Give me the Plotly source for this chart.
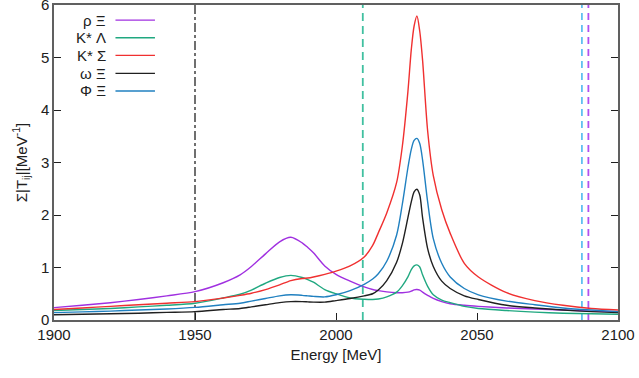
import plotly.graph_objects as go

energy = [1900, 1910, 1920, 1930, 1940, 1950, 1960, 1966, 1970, 1975, 1980, 1984, 1988, 1990,
          1992, 1996, 2000, 2005, 2010, 2013, 2015, 2018, 2021.5, 2023.5, 2025.5, 2026.7, 2027.7,
          2028.7, 2029.7, 2030.7, 2032.5, 2034.5, 2037.5, 2040.5, 2045.5, 2050.5, 2060.5, 2070.5,
          2080.5, 2090.5, 2100]

rho_xi = [0.235, 0.28, 0.33, 0.39, 0.46, 0.54, 0.71, 0.86, 1.02, 1.26, 1.49, 1.575, 1.47, 1.38,
          1.28, 1.03, 0.87, 0.74, 0.63, 0.58, 0.56, 0.535, 0.52, 0.52, 0.53, 0.55, 0.575,
          0.58, 0.57, 0.53, 0.47, 0.41, 0.35, 0.31, 0.28, 0.26, 0.23, 0.21, 0.19, 0.17, 0.16]

kstar_lambda = [0.18, 0.20, 0.22, 0.25, 0.28, 0.32, 0.42, 0.49, 0.57, 0.70, 0.81, 0.85, 0.81, 0.77,
                0.72, 0.58, 0.50, 0.42, 0.395, 0.39, 0.40, 0.44, 0.53, 0.65, 0.82, 0.96, 1.03,
                1.05, 1.01, 0.86, 0.64, 0.48, 0.38, 0.33, 0.26, 0.22, 0.18, 0.15, 0.13, 0.12, 0.11]

kstar_sigma = [0.20, 0.23, 0.26, 0.29, 0.32, 0.35, 0.42, 0.47, 0.51, 0.58, 0.67, 0.75, 0.79, 0.80,
               0.82, 0.87, 0.93, 1.03, 1.20, 1.42, 1.66, 2.04, 2.62, 3.30, 4.35, 5.15, 5.60,
               5.79, 5.50, 4.95, 3.60, 2.75, 2.10, 1.65, 1.08, 0.82, 0.52, 0.37, 0.28, 0.22, 0.19]

omega_xi = [0.10, 0.11, 0.12, 0.13, 0.145, 0.16, 0.20, 0.22, 0.25, 0.29, 0.33, 0.35, 0.35, 0.345,
            0.34, 0.34, 0.37, 0.41, 0.46, 0.50, 0.57, 0.75, 1.10, 1.45, 1.95, 2.25, 2.44,
            2.49, 2.38, 1.95, 1.36, 1.02, 0.74, 0.60, 0.46, 0.39, 0.28, 0.23, 0.19, 0.16, 0.14]

phi_xi = [0.14, 0.155, 0.17, 0.19, 0.21, 0.24, 0.29, 0.32, 0.36, 0.41, 0.46, 0.48, 0.47, 0.46,
          0.45, 0.44, 0.48, 0.56, 0.68, 0.78, 0.88, 1.12, 1.62, 2.20, 2.90, 3.25, 3.42,
          3.46, 3.36, 3.05, 2.25, 1.55, 1.08, 0.82, 0.60, 0.48, 0.36, 0.29, 0.23, 0.19, 0.16]

series_names = ["ρ Ξ", "K* Λ", "K* Σ", "ω Ξ", "Φ Ξ"]
series_values = [rho_xi, kstar_lambda, kstar_sigma, omega_xi, phi_xi]
series_colors = ["#a030e0", "#20a880", "#f03030", "#202020", "#2080c0"]

# thresholds (vertical reference lines)
threshold_energies = [1950, 2009.5, 2087.2, 2089.5]
threshold_colors = ["#404040", "#40c0a0", "#60c0f0", "#b050f0"]
threshold_dash = ["dashdot", "8px,5px", "7px,5px", "7px,5px"]

x_ticks = [1900, 1950, 2000, 2050, 2100]
y_ticks = [0, 1, 2, 3, 4, 5, 6]

FONT = "Liberation Sans"

fig = go.Figure()

for e, c, d in zip(threshold_energies, threshold_colors, threshold_dash):
    fig.add_trace(go.Scatter(x=[e, e], y=[0, 6], mode="lines",
                             line=dict(color=c, width=1.8 if d != "dashdot" else 1.5, dash=d),
                             showlegend=False, hoverinfo="skip"))

for name, vals, col in zip(series_names, series_values, series_colors):
    fig.add_trace(go.Scatter(x=energy, y=vals, mode="lines", name=name,
                             line=dict(color=col, width=1.4, shape="spline", smoothing=0.8),
                             showlegend=False))

# manual gnuplot-style legend: text right-aligned, sample line to the right
leg_y = [0.952, 0.896, 0.840, 0.783, 0.727]
for name, col, yy in zip(series_names, series_colors, leg_y):
    fig.add_annotation(x=0.095, y=yy, xref="paper", yref="paper", text=name,
                       showarrow=False, xanchor="right", yanchor="middle",
                       font=dict(family=FONT, size=15, color="#202020"))
    fig.add_shape(type="line", xref="paper", yref="paper", x0=0.109, x1=0.179,
                  y0=yy, y1=yy, line=dict(color=col, width=1.4))

fig.update_layout(
    width=639, height=378,
    margin=dict(l=54, r=21, t=5, b=58),
    paper_bgcolor="white", plot_bgcolor="white",
    font=dict(family=FONT, size=15, color="#202020"),
    xaxis=dict(range=[1900, 2100], tickvals=x_ticks, ticks="inside", ticklen=7,
               tickcolor="#202020", showline=True, linecolor="#606060", linewidth=1.5,
               mirror=True, showgrid=False, zeroline=False, automargin=False,
               ticklabeloverflow="allow",
               title=dict(text="Energy [MeV]", standoff=8, font=dict(size=15))),
    yaxis=dict(range=[0, 6], tickvals=y_ticks, ticks="inside", ticklen=7,
               tickcolor="#202020", showline=True, linecolor="#606060", linewidth=1.5,
               mirror="ticks", showgrid=False, zeroline=False, automargin=False,
               ticklabeloverflow="allow",
               title=dict(text="Σ|T<sub>ij</sub>|[MeV<sup>-1</sup>]", standoff=10,
                          font=dict(size=15))),
)

fig.write_html("out.html", config={"displayModeBar": False},
               post_script="document.body.style.margin='0';document.body.style.padding='0';")
